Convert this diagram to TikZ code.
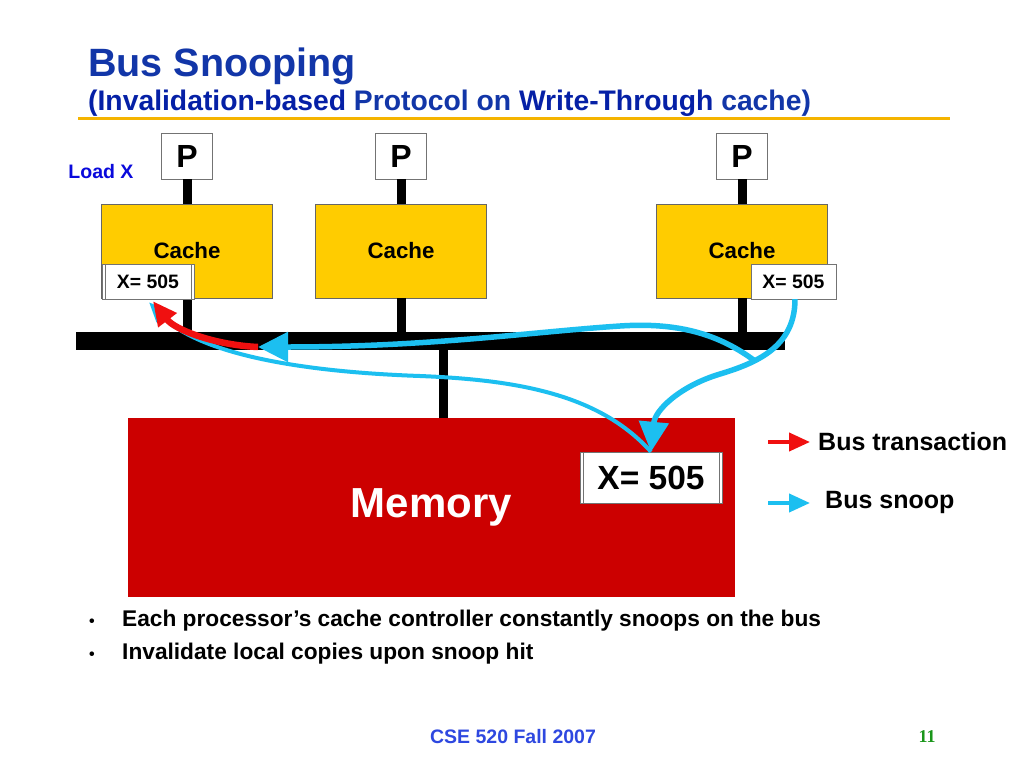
\documentclass[tikz,border=0pt]{standalone}
\usepackage{fontspec}
\setmainfont{Liberation Sans}
\newfontfamily\pagenofont{Liberation Serif}
\usetikzlibrary{arrows.meta,positioning,calc}
\definecolor{ttlblue}{HTML}{1236A8}
\definecolor{ttldark}{HTML}{0520A6}
\definecolor{rulegold}{HTML}{F5B400}
\definecolor{cacheyel}{HTML}{FFCC00}
\definecolor{memred}{HTML}{CC0000}
\definecolor{snoopcyan}{HTML}{1CBFF0}
\definecolor{transred}{HTML}{F01010}
\definecolor{loadblue}{HTML}{0A0ADC}
\definecolor{footblue}{HTML}{2E48E0}
\definecolor{pagegreen}{HTML}{1A961A}
\newcommand{\fsz}[1]{\fontsize{#1}{#1}\selectfont\bfseries}
\tikzset{
  cpu/.style       = {draw=black!55, fill=white, inner sep=0pt, minimum width=51pt,
                      minimum height=46pt, font=\fsz{32}},
  cachebox/.style  = {draw=black!60, fill=cacheyel, inner sep=0pt, minimum width=171pt,
                      minimum height=94pt, font=\fsz{22.3}},
  xval/.style      = {draw=black!55, fill=white, inner sep=0pt},
  xdbl/.style      = {xval, path picture={
                      \draw[black!55] ([xshift=3pt]path picture bounding box.north west)
                        -- ([xshift=3pt]path picture bounding box.south west)
                        ([xshift=-3pt]path picture bounding box.north east)
                        -- ([xshift=-3pt]path picture bounding box.south east);}},
  wire/.style      = {line width=9pt},
  trans/.style     = {transred, line width=6.5pt, -{Triangle[length=24pt,width=22pt]}},
  snoop/.style     = {snoopcyan, line width=5.5pt, -{Triangle[length=30pt,width=29pt]}},
  thinsnoop/.style = {snoopcyan, line width=4pt, -{Triangle[length=20pt,width=16pt]}},
  legtext/.style   = {anchor=west, inner sep=0pt, font=\fsz{25}},
  bullet/.style    = {anchor=base west, inner sep=0pt, font=\fsz{22.7}},
}

\begin{document}
\begin{tikzpicture}[x=1pt,y=-1pt]
\fill[white] (0,0) rectangle (1024,768);
\useasboundingbox (0,0) rectangle (1024,768);
% title
\node[anchor=base west, inner sep=0pt, text=ttlblue, font=\fsz{39.5}] (title) at (88,77) {Bus Snooping};
\node[anchor=base west, inner sep=0pt, text=ttlblue, font=\fsz{28.3}] (subtitle) at (88,110)
  {\textcolor{ttldark}{(Invalidation-based} Protocol on \textcolor{ttldark}{Write-Through} cache)};
\draw[rulegold, line width=3pt] (78,118) -- (950,118);
% bus and memory
\node[fill=black, inner sep=0pt, minimum width=709pt, minimum height=18pt] (bus) at (430.5,341) {};
\node[fill=memred, inner sep=0pt, minimum width=607pt, minimum height=179pt,
      text=white, font=\fsz{42}] (mem) at (431.5,507.5) {Memory};
\coordinate (tap) at (443,341);
\draw[wire] (tap |- bus.south) -- (tap |- mem.north);
% processors and caches
\foreach \n/\x in {1/187,2/401,3/742}{
  \node[cpu] (p\n) at (\x,156) {P};
  \node[cachebox] (c\n) at (\x,251) {Cache};
  \draw[wire] (p\n) -- (c\n);
  \draw[wire] (c\n) -- (c\n |- bus.north);
}
\node[text=loadblue, font=\fsz{19.5}] (load) at (101,172) {Load X};
% cached and memory copies of X
\node[xdbl, minimum width=92pt, minimum height=35pt, font=\fsz{19.4}] (xc1) at (148,281.5) {X= 505};
\node[xval, minimum width=85pt, minimum height=35pt, font=\fsz{19.4}] (xc3) at (793.5,281.5) {X= 505};
\node[xdbl, minimum width=142pt, minimum height=51pt, font=\fsz{33.5}] (xm) at (651,477.5) {X= 505};
% arrows
\coordinate (busend) at (258,347);
\coordinate (split) at (755,361);
\draw[thinsnoop] (xm.north) .. controls (600,395) and (520,380) .. (420,376)
  .. controls (250,370) and (185,340) .. ([xshift=1pt,yshift=-3pt]xc1.south);
\draw[trans] (busend) .. controls (215,345) and (175,330) .. ([xshift=5pt,yshift=-2pt]xc1.south);
\draw[snoop] ([xshift=1.5pt]xc3.south) .. controls (795,345) and (760,362) .. (720,374)
  .. controls (680,386) and (655,410) .. (xm.north);
\draw[snoop] (split) .. controls (720,335) and (680,322) .. (620,326)
  .. controls (530,332) and (430,347) .. (busend);
% legend
\node[legtext] (lgtrans) at (818,442) {Bus transaction};
\node[legtext] (lgsnoop) at (825,502) {Bus snoop};
\coordinate (lgt) at (768,442);
\coordinate (lgs) at (768,503);
\draw[transred, line width=4pt, -{Triangle[length=21pt,width=18pt]}] (lgt) -- ([xshift=-8pt]lgtrans.west);
\draw[snoopcyan, line width=4pt, -{Triangle[length=21pt,width=18pt]}] (lgs) -- ([xshift=-15pt,yshift=-1pt]lgsnoop.west);
% bullets
\node[bullet] (b1) at (122,626) {Each processor’s cache controller constantly snoops on the bus};
\node[bullet] (b2) at (122,659) {Invalidate local copies upon snoop hit};
\foreach \b in {b1,b2}
  \node[anchor=base, inner sep=0pt, font=\fsz{16}] (dot\b) at ([xshift=-30pt]\b.base west) {\textbullet};
% footer
\node[text=footblue, font=\fsz{19.5}] (foot) at (513,737) {CSE 520 Fall 2007};
\node[text=pagegreen, font=\pagenofont\fsz{18}] (pgno) at (927,737) {11};
\end{tikzpicture}
\end{document}
